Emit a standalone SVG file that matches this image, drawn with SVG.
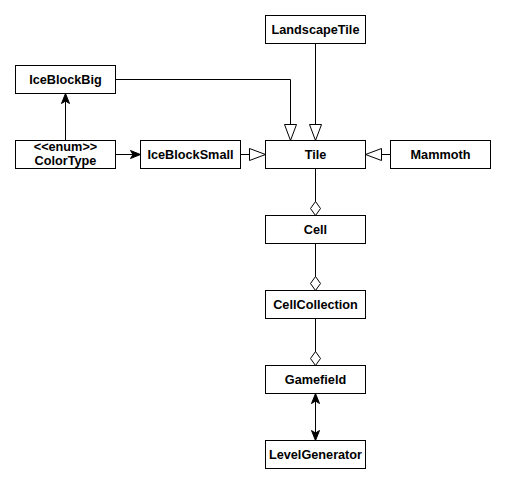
<svg xmlns="http://www.w3.org/2000/svg" width="505" height="483" viewBox="0 0 505 483">
<style>
.box{fill:#fff;stroke:#000;stroke-width:1}
.lbl{font-family:"Liberation Sans",Arial,sans-serif;font-size:12.7px;font-weight:bold;text-anchor:middle;fill:#000}
.ln{fill:none;stroke:#000;stroke-width:1}
</style>
<defs>
<marker id="tri" markerUnits="userSpaceOnUse" viewBox="0 0 16 12" refX="16" refY="6" markerWidth="16" markerHeight="12" orient="auto" overflow="visible">
<path d="M0,0 L16,6 L0,12 Z" fill="#fff" stroke="#000" stroke-width="1"/>
</marker>
<marker id="dia" markerUnits="userSpaceOnUse" viewBox="0 0 14 10" refX="14" refY="5" markerWidth="14" markerHeight="10" orient="auto" overflow="visible">
<path d="M0,5 L7,0 L14,5 L7,10 Z" fill="#fff" stroke="#000" stroke-width="1"/>
</marker>
<marker id="arr" markerUnits="userSpaceOnUse" viewBox="0 0 10 8" refX="10" refY="4" markerWidth="10" markerHeight="8" orient="auto-start-reverse" overflow="visible">
<path d="M0,0 L10,4 L0,8 L2.5,4 Z" fill="#000" stroke="#000" stroke-width="1"/>
</marker>
</defs>
<rect width="505" height="483" fill="#fff"/>
<g id="connectors">
<path class="ln" d="M115.5,79.5 H290.5 V140.5" marker-end="url(#tri)"/>
<path class="ln" d="M315.5,43.5 V140.5" marker-end="url(#tri)"/>
<path class="ln" d="M240.5,154.5 H265.5" marker-end="url(#tri)"/>
<path class="ln" d="M390.5,154.5 H365.5" marker-end="url(#tri)"/>
<path class="ln" d="M65.5,140.5 V93.5" marker-end="url(#arr)"/>
<path class="ln" d="M115.5,154.5 H140.5" marker-end="url(#arr)"/>
<path class="ln" d="M315.5,168.5 V215.5" marker-end="url(#dia)"/>
<path class="ln" d="M315.5,243.5 V290.5" marker-end="url(#dia)"/>
<path class="ln" d="M315.5,318.5 V365.5" marker-end="url(#dia)"/>
<path class="ln" d="M315.5,393.5 V440.5" marker-start="url(#arr)" marker-end="url(#arr)"/>
</g>
<g id="LandscapeTile"><rect class="box" x="265.5" y="15.5" width="100" height="28"/><text class="lbl" x="315.5" y="33.8">LandscapeTile</text></g>
<g id="IceBlockBig"><rect class="box" x="15.5" y="65.5" width="100" height="28"/><text class="lbl" x="65.5" y="83.8">IceBlockBig</text></g>
<g id="ColorType"><rect class="box" x="15.5" y="140.5" width="100" height="28"/><text class="lbl" x="65.5" y="150.8">&lt;&lt;enum&gt;&gt;</text><text class="lbl" x="65.5" y="164.5">ColorType</text></g>
<g id="IceBlockSmall"><rect class="box" x="140.5" y="140.5" width="100" height="28"/><text class="lbl" x="190.5" y="158.8">IceBlockSmall</text></g>
<g id="Tile"><rect class="box" x="265.5" y="140.5" width="100" height="28"/><text class="lbl" x="315.5" y="158.8">Tile</text></g>
<g id="Mammoth"><rect class="box" x="390.5" y="140.5" width="100" height="28"/><text class="lbl" x="440.5" y="158.8">Mammoth</text></g>
<g id="Cell"><rect class="box" x="265.5" y="215.5" width="100" height="28"/><text class="lbl" x="315.5" y="233.8">Cell</text></g>
<g id="CellCollection"><rect class="box" x="265.5" y="290.5" width="100" height="28"/><text class="lbl" x="315.5" y="308.8">CellCollection</text></g>
<g id="Gamefield"><rect class="box" x="265.5" y="365.5" width="100" height="28"/><text class="lbl" x="315.5" y="383.8">Gamefield</text></g>
<g id="LevelGenerator"><rect class="box" x="265.5" y="440.5" width="100" height="28"/><text class="lbl" x="315.5" y="458.8">LevelGenerator</text></g>
</svg>
